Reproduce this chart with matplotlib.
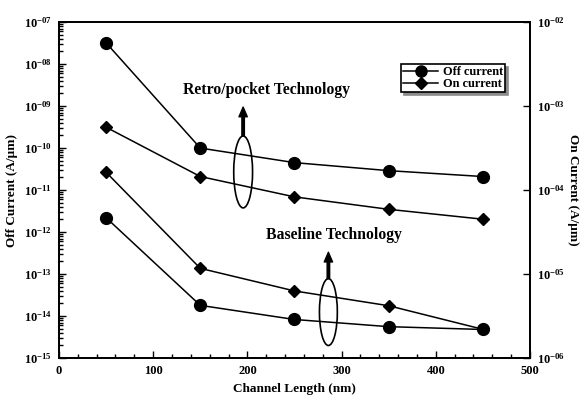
import numpy as np
import matplotlib
matplotlib.use("Agg")
import matplotlib.pyplot as plt
from matplotlib.patches import Ellipse
from matplotlib.lines import Line2D
from matplotlib.ticker import FixedLocator, FuncFormatter, MultipleLocator, NullLocator

# Channel length (nm) and currents (A/um)
length = [50, 150, 250, 350, 450]
off_retro = [3.2e-8, 1.0e-10, 4.5e-11, 2.9e-11, 2.1e-11]
on_retro = [5.6e-4, 1.45e-4, 8.3e-5, 5.9e-5, 4.5e-5]
off_base = [2.2e-12, 1.8e-14, 8.3e-15, 5.6e-15, 4.8e-15]
on_base = [1.63e-4, 1.17e-5, 6.3e-6, 4.2e-6, 2.2e-6]

plt.rcParams['font.family'] = 'Liberation Serif'
plt.rcParams['font.weight'] = 'bold'
plt.rcParams['mathtext.fontset'] = 'custom'
plt.rcParams['mathtext.rm'] = 'Liberation Serif:bold'
plt.rcParams['mathtext.it'] = 'Liberation Serif:bold'
plt.rcParams['mathtext.bf'] = 'Liberation Serif:bold'

fig = plt.figure(figsize=(5.81, 4.01), dpi=100)
ax = fig.add_axes([0.1015, 0.107, 0.8107, 0.838])
ax2 = ax.twinx()

mk = dict(color='black', linewidth=1.1)
ax.plot(length, off_retro, marker='o', markersize=8.5, **mk)
ax.plot(length, off_base, marker='o', markersize=8.5, **mk)
ax2.plot(length, on_retro, marker='D', markersize=6, **mk)
ax2.plot(length, on_base, marker='D', markersize=6, **mk)

ax.set_xlim(0, 500)
ax.set_yscale('log')
ax.set_ylim(1e-15, 1e-7)
ax2.set_yscale('log')
ax2.set_ylim(1e-6, 1e-2)


def pow_fmt(v, _):
    return r'$10^{-%02d}$' % round(-np.log10(v))


# keep ticks inside the axis range only
left_exp = np.arange(-15, -6)
right_exp = np.arange(-6, -1)
left_minor = [m * 10.0 ** e for e in left_exp[:-1] for m in range(2, 10)]

ax.xaxis.set_major_locator(MultipleLocator(100))
ax.xaxis.set_minor_locator(MultipleLocator(20))
ax.yaxis.set_major_locator(FixedLocator(10.0 ** left_exp))
ax.yaxis.set_minor_locator(FixedLocator(left_minor))
ax.yaxis.set_major_formatter(FuncFormatter(pow_fmt))
ax2.yaxis.set_major_locator(FixedLocator(10.0 ** right_exp))
ax2.yaxis.set_minor_locator(NullLocator())
ax2.yaxis.set_major_formatter(FuncFormatter(pow_fmt))

ax.tick_params(which='both', direction='in', top=False, right=False, labelsize=9, width=1)
ax.tick_params(which='major', length=5, pad=5)
ax.tick_params(which='minor', length=3)
ax2.tick_params(which='both', direction='in', labelsize=9, width=1, length=5, pad=5)

for a in (ax, ax2):
    for s in a.spines.values():
        s.set_linewidth(1.3)

ax.set_xlabel('Channel Length (nm)', fontsize=9.5, fontweight='bold', labelpad=4)
ax.set_ylabel('Off Current (A/\u00b5m)', fontsize=9.5, fontweight='bold', labelpad=4)
ax2.set_ylabel('On Current (A/\u00b5m)', fontsize=9.5, fontweight='bold', rotation=-90, labelpad=10)

# Annotations: ellipses grouping the two technologies, with arrows
for cx, cy, w, h, ytop in [(0.391, 0.554, 0.040, 0.214, 0.747), (0.572, 0.137, 0.038, 0.199, 0.315)]:
    ax2.add_patch(Ellipse((cx, cy), w, h, transform=ax2.transAxes, fill=False,
                          edgecolor='black', linewidth=1.2))
    ax2.annotate('', xy=(cx, ytop), xytext=(cx, cy + h / 2), xycoords='axes fraction',
                 arrowprops=dict(facecolor='black', edgecolor='black', width=1.8,
                                 headwidth=6, headlength=7, shrink=0))

ax2.text(0.44, 0.798, 'Retro/pocket Technology', transform=ax2.transAxes,
         ha='center', va='center', fontsize=11.3, fontweight='bold')
ax2.text(0.584, 0.366, 'Baseline Technology', transform=ax2.transAxes,
         ha='center', va='center', fontsize=11.3, fontweight='bold')

handles = [Line2D([], [], marker='o', markersize=8, **mk),
           Line2D([], [], marker='D', markersize=6, **mk)]
leg = ax2.legend(handles, ['Off current', 'On current'], loc='upper left',
                 bbox_to_anchor=(401 / 581, 1 - 64 / 401), bbox_transform=fig.transFigure,
                 fontsize=8.8, frameon=True, fancybox=False, borderaxespad=0,
                 borderpad=0.15, labelspacing=0.05, handlelength=2.9, handletextpad=0.4,
                 shadow={'color': '0.55', 'alpha': 1})
leg.get_frame().set_edgecolor('black')
leg.get_frame().set_linewidth(1.2)

fig.savefig('out.png', dpi=100)
